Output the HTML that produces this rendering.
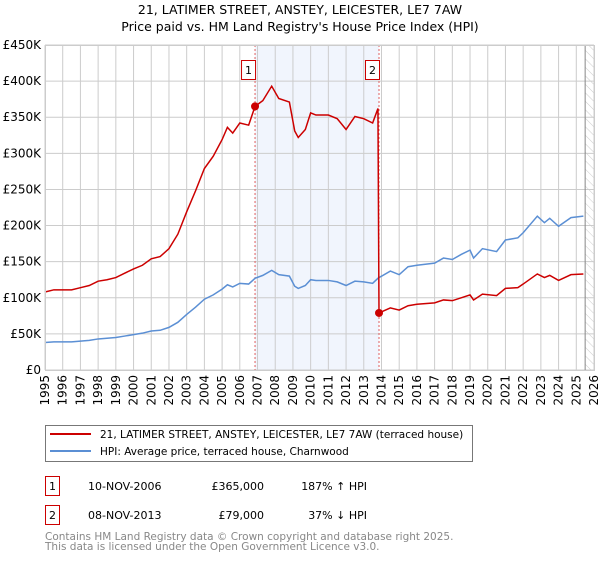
<!DOCTYPE html>
<html><head><meta charset="utf-8"><style>
body{margin:0;background:#fff;width:600px;height:560px;overflow:hidden;font-family:"DejaVu Sans","Liberation Sans",sans-serif}
</style></head><body>
<svg id="c" width="600" height="560" xmlns="http://www.w3.org/2000/svg" font-family="DejaVu Sans, Liberation Sans, sans-serif">
<defs><pattern id="hatch" width="6" height="6" patternUnits="userSpaceOnUse" patternTransform="rotate(-45)"><line x1="0" y1="0" x2="0" y2="6" stroke="#ccc" stroke-width="1"/></pattern></defs>
<text x="300" y="14" text-anchor="middle" font-size="12.5">21, LATIMER STREET, ANSTEY, LEICESTER, LE7 7AW</text>
<text x="300" y="31" text-anchor="middle" font-size="12.5">Price paid vs. HM Land Registry's House Price Index (HPI)</text>
<g id="plot"></g>
<g>
<rect x="45.5" y="425.5" width="427" height="36" fill="#fff" stroke="#777"/>
<line x1="50" y1="434" x2="91" y2="434" stroke="#cc0000" stroke-width="2"/>
<text x="100" y="438" font-size="10.5">21, LATIMER STREET, ANSTEY, LEICESTER, LE7 7AW (terraced house)</text>
<line x1="50" y1="451" x2="91" y2="451" stroke="#5b8fd4" stroke-width="2"/>
<text x="100" y="455" font-size="10.5">HPI: Average price, terraced house, Charnwood</text>
</g>
<g font-size="11">
<rect x="45.5" y="476.5" width="14" height="19" fill="#fff" stroke="#cc0000"/>
<text x="52.5" y="490" text-anchor="middle">1</text>
<text x="88" y="490">10-NOV-2006</text>
<text x="264" y="490" text-anchor="end">£365,000</text>
<text x="367" y="490" text-anchor="end">187% ↑ HPI</text>
<rect x="45.5" y="505.5" width="14" height="19" fill="#fff" stroke="#cc0000"/>
<text x="52.5" y="519" text-anchor="middle">2</text>
<text x="88" y="519">08-NOV-2013</text>
<text x="264" y="519" text-anchor="end">£79,000</text>
<text x="367" y="519" text-anchor="end">37% ↓ HPI</text>
</g>
<text x="45" y="540" font-size="10.5" fill="#888">Contains HM Land Registry data © Crown copyright and database right 2025.</text>
<text x="45" y="550" font-size="10.5" fill="#888">This data is licensed under the Open Government Licence v3.0.</text>
</svg>
<script>
const hpiYears=[1995,1995.5,1996,1996.5,1997,1997.5,1998,1998.5,1999,1999.5,2000,2000.5,2001,2001.5,2002,2002.5,2003,2003.5,2004,2004.5,2005,2005.3,2005.6,2006,2006.5,2006.86,2007.3,2007.8,2008.2,2008.8,2009.1,2009.3,2009.7,2010,2010.3,2011,2011.5,2012,2012.5,2013,2013.5,2013.8,2014.5,2015,2015.5,2016,2017,2017.5,2018,2018.5,2019,2019.2,2019.7,2020.5,2021,2021.7,2022,2022.8,2023.2,2023.5,2024,2024.7,2025.4];
const hpiValues=[38,39,39,39,40,41,43,44,45,47,49,51,54,55,59,66,77,87,98,104,112,118,115,120,119,127,131,138,132,130,116,113,117,125,124,124,122,117,123,122,120,127,137,132,143,145,148,155,153,160,166,155,168,164,180,183,190,213,204,210,199,211,213];
const priceYears=[1995,1995.5,1996,1996.5,1997,1997.5,1998,1998.5,1999,1999.5,2000,2000.5,2001,2001.5,2002,2002.5,2003,2003.5,2004,2004.5,2005,2005.3,2005.6,2006,2006.5,2006.86,2007.3,2007.8,2008.2,2008.8,2009.1,2009.3,2009.7,2010,2010.3,2011,2011.5,2012,2012.5,2013,2013.5,2013.8,2013.86,2014.5,2015,2015.5,2016,2017,2017.5,2018,2018.5,2019,2019.2,2019.7,2020.5,2021,2021.7,2022,2022.8,2023.2,2023.5,2024,2024.7,2025.4];
const priceValues=[108,111,111,111,114,117,123,125,128,134,140,145,154,157,168,188,219,248,279,296,319,336,328,342,339,365,373,393,376,371,331,322,333,356,353,353,348,333,351,348,342,362,79,86,83,89,91,93,97,96,100,104,97,105,103,113,114,119,133,128,131,124,132,133];
const saleYears=[2006.86,2013.86];
const saleValues=[365,79];
const saleLabels=["1","2"];
const yTicks=[0,50,100,150,200,250,300,350,400,450];
const yTickLabels=["£0","£50K","£100K","£150K","£200K","£250K","£300K","£350K","£400K","£450K"];
const xTicks=[1995,1996,1997,1998,1999,2000,2001,2002,2003,2004,2005,2006,2007,2008,2009,2010,2011,2012,2013,2014,2015,2016,2017,2018,2019,2020,2021,2022,2023,2024,2025,2026];

const X0=45,X1=594,Y0=370,Y1=45;
const sx=y=>X0+(y-1995)/(2026-1995)*(X1-X0);
const sy=v=>Y0-v/450*(Y0-Y1);
const NS="http://www.w3.org/2000/svg";
const g=document.getElementById('plot');
function mk(tag,attrs,parent){const e=document.createElementNS(NS,tag);for(const k in attrs)e.setAttribute(k,attrs[k]);(parent||g).appendChild(e);return e;}

const shade=mk('rect',{x:sx(saleYears[0]),y:Y1,width:sx(saleYears[1])-sx(saleYears[0]),height:Y0-Y1,fill:'#eef2fc',opacity:0.8});


const hat=mk('rect',{x:sx(2025.5),y:Y1,width:X1-sx(2025.5),height:Y0-Y1,fill:'url(#hatch)'});


yTicks.forEach((t,i)=>{
  const l=mk('line',{x1:X0,x2:X1,y1:sy(t),y2:sy(t),stroke:'#ccc'});
  
  
  const tx=mk('text',{x:X0-4,y:sy(t)+4,'text-anchor':'end','font-size':12});
  tx.textContent=yTickLabels[i];
  
  
});
xTicks.forEach(t=>{
  const l=mk('line',{x1:sx(t),x2:sx(t),y1:Y1,y2:Y0,stroke:'#ccc'});
  
  
  const tx=mk('text',{x:0,y:0,'text-anchor':'end','font-size':12,transform:`translate(${sx(t)+4},375) rotate(-90)`});
  tx.textContent=t;
  
  
});
const edge=mk('line',{x1:sx(2025.5),x2:sx(2025.5),y1:Y1,y2:Y0,stroke:'#888'});


saleYears.forEach((y,i)=>{
  const l=mk('line',{x1:sx(y),x2:sx(y),y1:Y1,y2:Y0,stroke:'#e06060','stroke-dasharray':'2,2','stroke-width':1});
  
  
});
const hp=mk('polyline',{points:hpiYears.map((y,i)=>sx(y)+','+sy(hpiValues[i])).join(' '),fill:'none',stroke:'#5b8fd4','stroke-width':1.5});


const pp=mk('polyline',{points:priceYears.map((y,i)=>sx(y)+','+sy(priceValues[i])).join(' '),fill:'none',stroke:'#cc0000','stroke-width':1.5});


saleYears.forEach((y,i)=>{
  const c=mk('circle',{cx:sx(y),cy:sy(saleValues[i]),r:4,fill:'#cc0000'});
  
  
  const r=mk('rect',{x:sx(y)-13.5,y:60.5,width:14,height:19,fill:'#fff',stroke:'#cc0000'});
  
  
  const t=mk('text',{x:sx(y)-6.5,y:74,'text-anchor':'middle','font-size':11});
  t.textContent=saleLabels[i];
  
  
});
const frame=mk('rect',{x:X0+0.5,y:Y1+0.5,width:X1-X0,height:Y0-Y1,fill:'none',stroke:'#ccc'});


</script>
</body></html>
